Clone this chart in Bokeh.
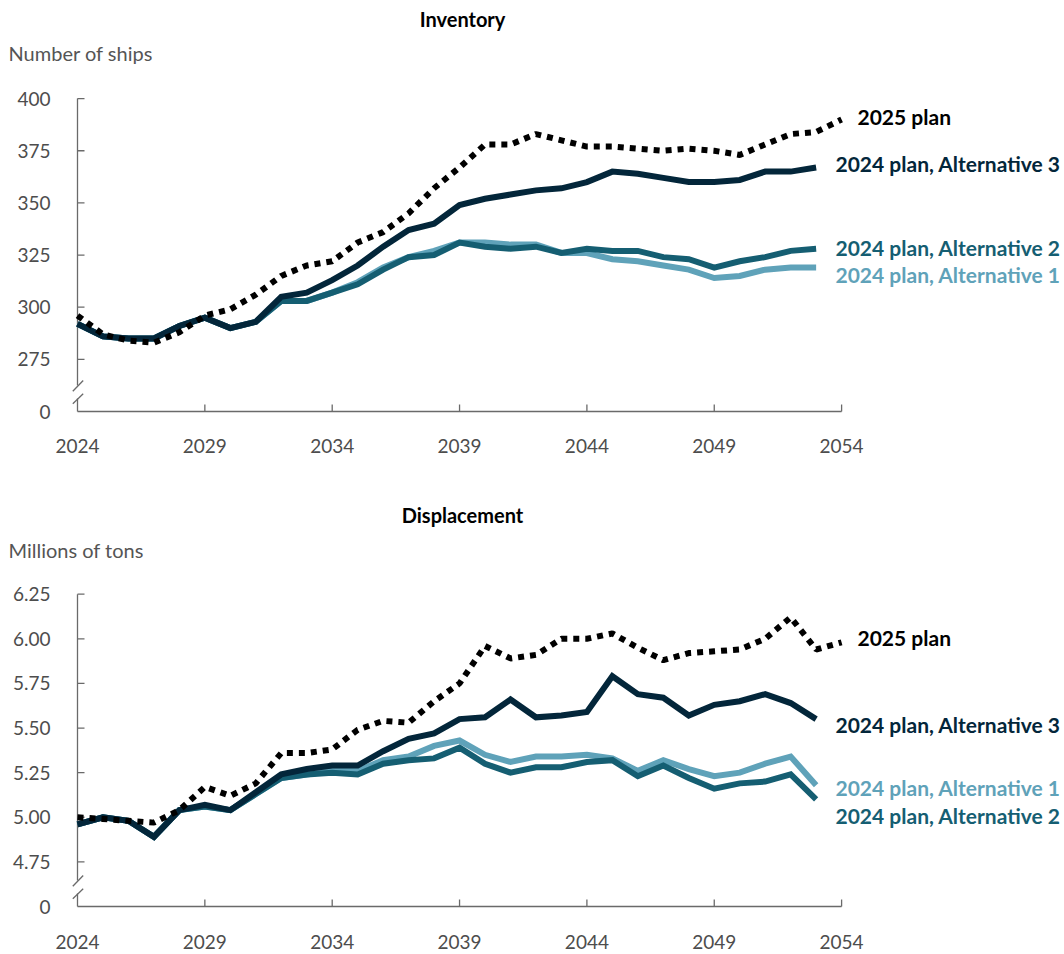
from bokeh.plotting import figure
from bokeh.models import Range1d, Label
from bokeh.core.properties import value
from bokeh.layouts import column
from bokeh.embed import file_html
from bokeh.resources import INLINE

# ---------------- data ----------------
years_alt = list(range(2024, 2054))        # 2024 plan alternatives
years_2025 = list(range(2024, 2055))       # 2025 plan
tick_years = [2024, 2029, 2034, 2039, 2044, 2049, 2054]
tick_year_labels = ["2024", "2029", "2034", "2039", "2044", "2049", "2054"]

inv_2025 = [296, 287, 284, 283, 288, 296, 299, 306, 315, 320, 322, 331, 336, 345, 357, 367,
            378, 378, 383, 380, 377, 377, 376, 375, 376, 375, 373, 378, 383, 384, 390]
inv_alt3 = [292, 286, 285, 285, 291, 295, 290, 293, 305, 307, 313, 320, 329, 337, 340, 349,
            352, 354, 356, 357, 360, 365, 364, 362, 360, 360, 361, 365, 365, 367]
inv_alt2 = [292, 286, 285, 285, 291, 295, 290, 293, 303, 303, 307, 311, 318, 324, 325, 331,
            329, 328, 329, 326, 328, 327, 327, 324, 323, 319, 322, 324, 327, 328]
inv_alt1 = [292, 286, 285, 285, 291, 295, 290, 293, 303, 303, 307, 312, 319, 324, 327, 331,
            331, 330, 330, 326, 326, 323, 322, 320, 318, 314, 315, 318, 319, 319]

disp_2025 = [5.00, 4.99, 4.98, 4.97, 5.04, 5.17, 5.12, 5.19, 5.36, 5.36, 5.38, 5.49, 5.54, 5.53,
             5.65, 5.75, 5.96, 5.89, 5.91, 6.00, 6.00, 6.03, 5.95, 5.88, 5.92, 5.93, 5.94, 6.00,
             6.12, 5.94, 5.98]
disp_alt3 = [4.96, 5.00, 4.98, 4.89, 5.04, 5.07, 5.04, 5.14, 5.24, 5.27, 5.29, 5.29, 5.37, 5.44,
             5.47, 5.55, 5.56, 5.66, 5.56, 5.57, 5.59, 5.79, 5.69, 5.67, 5.57, 5.63, 5.65, 5.69,
             5.64, 5.55]
disp_alt1 = [4.96, 5.00, 4.98, 4.89, 5.04, 5.06, 5.04, 5.13, 5.22, 5.24, 5.26, 5.26, 5.32, 5.34,
             5.40, 5.43, 5.35, 5.31, 5.34, 5.34, 5.35, 5.33, 5.26, 5.32, 5.27, 5.23, 5.25, 5.30,
             5.34, 5.18]
disp_alt2 = [4.96, 5.00, 4.98, 4.89, 5.04, 5.06, 5.04, 5.13, 5.22, 5.24, 5.25, 5.24, 5.30, 5.32,
             5.33, 5.39, 5.30, 5.25, 5.28, 5.28, 5.31, 5.32, 5.23, 5.29, 5.22, 5.16, 5.19, 5.20,
             5.24, 5.10]

inv_ticks = [250, 275, 300, 325, 350, 375, 400]
inv_tick_labels = ["0", "275", "300", "325", "350", "375", "400"]
disp_ticks = [4.5, 4.75, 5.0, 5.25, 5.5, 5.75, 6.0, 6.25]
disp_tick_labels = ["0", "4.75", "5.00", "5.25", "5.50", "5.75", "6.00", "6.25"]

series_names = ["2025 plan", "2024 plan, Alternative 3", "2024 plan, Alternative 2",
                "2024 plan, Alternative 1"]

# ---------------- style ----------------
FONT = "Lato"
C_2025 = "#000000"
C_ALT3 = "#03263a"
C_ALT2 = "#155e72"
C_ALT1 = "#5fa2b9"
AXIS = "#6a6a6a"
TICK_TXT = "#4d4d4d"

W = 1064
PXX = 25.47          # pixels per year
X_ORIGIN = 77        # page x of 2024


def xpx(px):
    return 2024 + (px - X_ORIGIN) / PXX


def make_panel(title, unit, s2025, s3, s2, s1, y0, yticks, ylabels, pxu,
               top_abs, axis_abs, height, title_y, unit_y, label_dy, xlab_off):
    bottom_abs = top_abs + height
    ymin = y0 - (bottom_abs - axis_abs) / pxu
    ymax = y0 + (axis_abs - top_abs) / pxu

    def ypx(abs_y):
        return y0 + (axis_abs - abs_y) / pxu

    p = figure(width=W, height=height, x_range=Range1d(xpx(0), xpx(W)),
               y_range=Range1d(ymin, ymax), output_backend="svg",
               toolbar_location=None, title=None,
               x_axis_type=None, y_axis_type=None,
               min_border_left=0, min_border_right=0,
               min_border_top=0, min_border_bottom=0)
    p.outline_line_color = None
    p.grid.visible = False

    dx = lambda px: px / PXX
    dy = lambda px: px / pxu

    # ---- x axis: line, inward ticks, labels
    sx0 = [tick_years[0]]
    sy0 = [y0]
    sx1 = [tick_years[-1]]
    sy1 = [y0]
    for t in tick_years[1:]:
        sx0.append(t); sy0.append(y0); sx1.append(t); sy1.append(y0 + dy(7))
    # ---- y axis: line with break, inward ticks
    sx0 += [2024, 2024]
    sy0 += [y0 + dy(26), y0]
    sx1 += [2024, 2024]
    sy1 += [yticks[-1], y0 + dy(13)]
    for t in yticks[1:]:
        sx0.append(2024); sy0.append(t); sx1.append(2024 + dx(7)); sy1.append(t)
    sx0 += [2024 - dx(4.7), 2024 - dx(4.7)]
    sy0 += [y0 + dy(20.3), y0 + dy(7.7)]
    sx1 += [2024 + dx(5.7), 2024 + dx(5.7)]
    sy1 += [y0 + dy(31), y0 + dy(17.7)]
    p.segment(x0=sx0, y0=sy0, x1=sx1, y1=sy1, line_color=AXIS, line_width=1.3)

    p.text(x=[xpx(50)] * len(yticks), y=yticks, text=ylabels,
           text_font=value(FONT), text_font_size="19px", text_color=TICK_TXT,
           text_align="right", text_baseline="middle")
    p.text(x=tick_years, y=[y0 - dy(xlab_off)] * len(tick_years), text=tick_year_labels,
           text_font=value(FONT), text_font_size="19px", text_color=TICK_TXT,
           text_align="center", text_baseline="middle")

    # ---- series
    p.line(years_alt, s1, line_color=C_ALT1, line_width=6, line_join="miter")
    p.line(years_alt, s2, line_color=C_ALT2, line_width=6, line_join="miter")
    p.line(years_alt, s3, line_color=C_ALT3, line_width=6, line_join="miter")
    p.line(years_2025, s2025, line_color=C_2025, line_width=6, line_dash="6 6")

    # ---- end labels
    ends = [(s2025, C_2025, series_names[0], 857, label_dy[0]),
            (s3, C_ALT3, series_names[1], 835, label_dy[1]),
            (s2, C_ALT2, series_names[2], 835, label_dy[2]),
            (s1, C_ALT1, series_names[3], 835, label_dy[3])]
    for s, c, name, ax, ddy in ends:
        p.add_layout(Label(x=xpx(ax), y=s[-1] + ddy, text=name, text_font=FONT,
                           text_font_style="bold", text_font_size="21px",
                           text_color=c, text_baseline="middle", text_align="left"))

    # ---- title and unit
    p.add_layout(Label(x=xpx(462), y=ypx(title_y), text=title, text_font=FONT,
                       text_font_style="bold", text_font_size="20px",
                       text_color="#000000", text_align="center",
                       text_baseline="middle"))
    p.add_layout(Label(x=xpx(8), y=ypx(unit_y), text=unit, text_font=FONT,
                       text_font_size="20px", text_color="#555555",
                       text_align="left", text_baseline="middle"))
    return p


p1 = make_panel("Inventory", "Number of ships", inv_2025, inv_alt3, inv_alt2, inv_alt1,
                250, inv_ticks, inv_tick_labels, 2.086,
                top_abs=0, axis_abs=411, height=490,
                title_y=18, unit_y=52, label_dy=[1.2, 1.7, 0.8, -3.2], xlab_off=34)

p2 = make_panel("Displacement", "Millions of tons", disp_2025, disp_alt3, disp_alt2, disp_alt1,
                4.5, disp_ticks, disp_tick_labels, 178.47,
                top_abs=490, axis_abs=906, height=462,
                title_y=514, unit_y=549, label_dy=[0.025, -0.03, -0.09, -0.015],
                xlab_off=35)

layout = column(p1, p2, spacing=0)

open("out.html", "w").write(file_html(layout, INLINE))
